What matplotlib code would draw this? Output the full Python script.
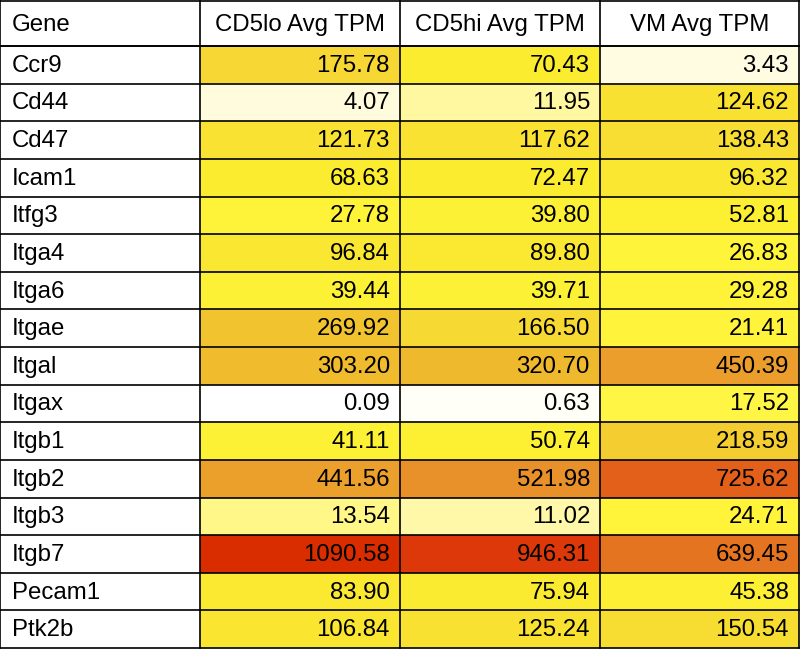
import numpy as np
import matplotlib.pyplot as plt
from matplotlib.colors import LinearSegmentedColormap, Normalize

plt.rcParams['font.family'] = ['Liberation Sans', 'DejaVu Sans']

# Data
genes = ["Ccr9", "Cd44", "Cd47", "Icam1", "Itfg3", "Itga4", "Itga6", "Itgae",
         "Itgal", "Itgax", "Itgb1", "Itgb2", "Itgb3", "Itgb7", "Pecam1", "Ptk2b"]
columns = ["CD5lo Avg TPM", "CD5hi Avg TPM", "VM Avg TPM"]

cd5lo = [175.78, 4.07, 121.73, 68.63, 27.78, 96.84, 39.44, 269.92,
         303.20, 0.09, 41.11, 441.56, 13.54, 1090.58, 83.90, 106.84]
cd5hi = [70.43, 11.95, 117.62, 72.47, 39.80, 89.80, 39.71, 166.50,
         320.70, 0.63, 50.74, 521.98, 11.02, 946.31, 75.94, 125.24]
vm = [3.43, 124.62, 138.43, 96.32, 52.81, 26.83, 29.28, 21.41,
      450.39, 17.52, 218.59, 725.62, 24.71, 639.45, 45.38, 150.54]

values = np.array([cd5lo, cd5hi, vm]).T
vmax = values.max()

# white -> yellow -> orange -> red colour scale
anchors = [(0, "#ffffff"), (0.7, "#fffff5"), (4, "#fffbdc"), (12, "#fff8a0"),
           (18, "#fff53c"), (60, "#fcee30"), (175, "#f6d733"), (300, "#f0bd2e"),
           (520, "#e8902a"), (725, "#e2601a"), (946, "#dc380a"), (vmax, "#d92d00")]
cmap = LinearSegmentedColormap.from_list("tpm", [(v / vmax, c) for v, c in anchors], N=8192)

fig = plt.figure(figsize=(8, 6.49), dpi=100)
ax = fig.add_axes([0, 0, 1, 1])

W, H = 800, 649
head_h = 46
row_h = (H - 1 - head_h) / len(genes)
x_edges = np.array([0, 200, 400, 600, 799])
y_edges = head_h + np.arange(len(genes) + 1) * row_h

ax.pcolormesh(x_edges[1:], y_edges, values, cmap=cmap, norm=Normalize(0, vmax))

# grid lines
for x in x_edges:
    ax.plot([x, x], [0.7, y_edges[-1]], color="black", lw=1.2)
ax.plot([0, 799], [0.7, 0.7], color="black", lw=1.2)
for y in np.r_[head_h, y_edges]:
    ax.plot([0, 799], [y, y], color="black", lw=1.2)

fs = 17.3
ax.text(12, head_h / 2 + 2, "Gene", ha="left", va="center", fontsize=fs)
for j, col in enumerate(columns):
    ax.text((x_edges[j + 1] + x_edges[j + 2]) / 2, head_h / 2 + 2, col,
            ha="center", va="center", fontsize=fs)
for i, g in enumerate(genes):
    yc = (y_edges[i] + y_edges[i + 1]) / 2 + 1
    ax.text(12, yc, g, ha="left", va="center", fontsize=fs)
    for j in range(3):
        ax.text(x_edges[j + 2] - 10, yc, f"{values[i, j]:.2f}",
                ha="right", va="center", fontsize=fs)

ax.set_xlim(0, W)
ax.set_ylim(H, 0)
ax.axis("off")

fig.savefig("out.png", dpi=100)
